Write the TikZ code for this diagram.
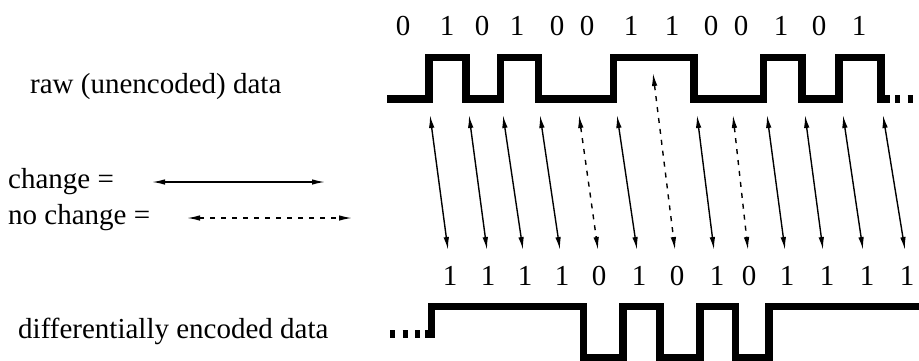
\documentclass[tikz,border=0pt]{standalone}
\usepackage{fontspec}
\setmainfont{Liberation Serif}
\usetikzlibrary{arrows.meta}

\begin{document}
\begin{tikzpicture}[x=1pt, y=-1pt,
        wave/.style={line width=7.5pt, line join=miter},
        dots/.style={line width=7.5pt, dash pattern=on 5pt off 7.5pt},
        chg/.style={{Latex[length=13pt, width=5.5pt]}-{Latex[length=13pt, width=5.5pt]}, line width=1.4pt},
        nochg/.style={chg, dash pattern=on 5pt off 6pt},
        bit/.style={font=\fontsize{29}{34}\selectfont, anchor=base, inner sep=0pt},
        lbl/.style={bit, anchor=base west}
    ]
        \useasboundingbox (0,0) rectangle (919,360);

        % labels
        \node[lbl] (raw) at (30,93) {raw (unencoded) data};
        \node[lbl] (chglbl) at (8,188) {change =};
        \node[lbl] (nochglbl) at (8,224) {no change =};
        \node[lbl] (enc) at (18,338) {differentially encoded data};

        % legend
        \coordinate (c1) at (152,182);
        \coordinate (c2) at (325,182);
        \coordinate (n1) at (187,218);
        \coordinate (n2) at (352,218);
        \draw[chg] (c1) -- (c2);
        \draw[nochg] (n1) -- (n2);

        % raw bits
        \foreach \k/\x/\b in {0/403/0,1/447/1,2/482/0,3/517/1,4/557/0,5/587/0,6/631/1,
                              7/672/1,8/711/0,9/741/0,10/781/1,11/819/0,12/859/1}
            \node[bit] (r\k) at (\x,35) {\b};

        % raw signal
        \draw[wave] (387,99) -- (429,99) -- (429,57.5) -- (466,57.5) -- (466,99)
            -- (500.5,99) -- (500.5,57.5) -- (538.5,57.5) -- (538.5,99)
            -- (613.5,99) -- (613.5,57.5) -- (694,57.5) -- (694,99)
            -- (763.5,99) -- (763.5,57.5) -- (802,57.5) -- (802,99)
            -- (839,99) -- (839,57.5) -- (881,57.5) -- (881,99) -- (890,99);
        \draw[dots] (895,99) -- (919,99);

        % change / no change
        \foreach \k/\tx/\ty/\bx/\s in {0/430/115/448/chg,1/469/115/487/chg,2/503/115/523/chg,
                                       3/540/115/560/chg,4/579/115/598/nochg,5/617/115/637/chg,
                                       6/653/73/675/nochg,7/697/115/714/chg,8/733/115/748/nochg,
                                       9/767/115/785/chg,10/805/115/823/chg,11/843/115/863/chg,
                                       12/883/115/905/chg}{
            \coordinate (ta\k) at (\tx,\ty);
            \coordinate (ba\k) at (\bx,250);
            \draw[\s] (ta\k) -- (ba\k);
        }

        % encoded bits
        \foreach \k/\x/\b in {0/450/1,1/488/1,2/525/1,3/562/1,4/599/0,5/639/1,6/677/0,
                              7/717/1,8/749/0,9/787/1,10/827/1,11/867/1,12/907/1}
            \node[bit] (e\k) at (\x,285) {\b};

        % encoded signal
        \draw[dots] (390,334) -- (425,334);
        \draw[wave] (425,334) -- (431.5,334) -- (431.5,306.5) -- (583.5,306.5)
            -- (583.5,357.5) -- (623,357.5) -- (623,306.5) -- (660,306.5)
            -- (660,357.5) -- (700,357.5) -- (700,306.5) -- (735.5,306.5)
            -- (735.5,357.5) -- (769,357.5) -- (769,306.5) -- (919,306.5);
    \end{tikzpicture}
\end{document}
